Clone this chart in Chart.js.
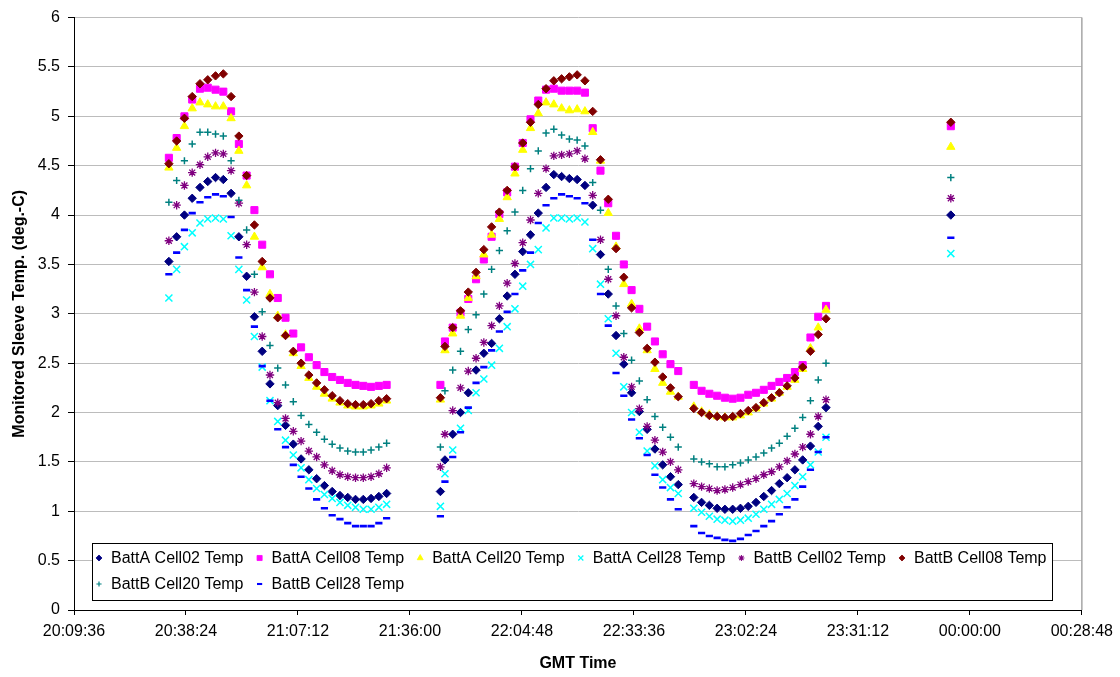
<!DOCTYPE html>
<html>
<head>
<meta charset="utf-8">
<script src="https://cdn.jsdelivr.net/npm/chart.js@4.4.1/dist/chart.umd.min.js"></script>
<style>
  html, body { margin: 0; padding: 0; background: #fff; }
  #wrap { width: 1120px; height: 677px; }
</style>
</head>
<body>
<div id="wrap"><canvas id="tempChart" width="1120" height="677"></canvas></div>
<script>
// sample times (GMT), 2 min apart, with the gaps seen in the plot
const times = [
  "20:34","20:36","20:38","20:40","20:42","20:44","20:46","20:48","20:50","20:52",
  "20:54","20:56","20:58","21:00","21:02","21:04","21:06","21:08","21:10","21:12",
  "21:14","21:16","21:18","21:20","21:22","21:24","21:26","21:28","21:30",
  "21:43:50",
  "21:45","21:47","21:49","21:51","21:53","21:55","21:57","21:59","22:01","22:03",
  "22:05","22:07","22:09","22:11","22:13","22:15","22:17","22:19","22:21","22:23",
  "22:25","22:27","22:29","22:31","22:33","22:35","22:37","22:39","22:41","22:43","22:45",
  "22:49","22:51","22:53","22:55","22:57","22:59","23:01","23:03","23:05","23:07",
  "23:09","23:11","23:13","23:15","23:17","23:19","23:21","23:23",
  "23:55:06"
];

const seriesNames = [
  "BattA Cell02 Temp", "BattA Cell08 Temp", "BattA Cell20 Temp", "BattA Cell28 Temp",
  "BattB Cell02 Temp", "BattB Cell08 Temp", "BattB Cell20 Temp", "BattB Cell28 Temp"
];

const battA02 = [
  3.53, 3.78, 4.0, 4.17, 4.28, 4.34, 4.38, 4.36, 4.22, 3.78, 3.38, 2.97, 2.62, 2.29, 2.07,
  1.87, 1.68, 1.53, 1.42, 1.33, 1.26, 1.2, 1.16, 1.14, 1.12, 1.12, 1.13, 1.15, 1.18,
  1.2,
  1.52, 1.78, 2.0, 2.2, 2.43, 2.6, 2.7, 2.95, 3.18, 3.4, 3.63, 3.8, 4.02, 4.28, 4.41, 4.39,
  4.37, 4.36, 4.3, 4.1, 3.6, 3.2, 2.78, 2.49, 2.2, 2.01, 1.83, 1.63, 1.47, 1.35, 1.27,
  1.14, 1.09, 1.06, 1.03, 1.02, 1.02, 1.03, 1.05, 1.09, 1.15, 1.21, 1.28, 1.34, 1.42, 1.52,
  1.66, 1.86, 2.05,
  4.0
];
const battA08 = [
  4.58, 4.78, 5.0, 5.17, 5.28, 5.29, 5.27, 5.25, 5.05, 4.72, 4.4, 4.05, 3.7, 3.4, 3.16,
  2.96, 2.8, 2.66, 2.56, 2.48, 2.41, 2.36, 2.33, 2.3, 2.28, 2.27, 2.26, 2.27, 2.28,
  2.28,
  2.72, 2.86, 3.01, 3.15, 3.35, 3.55, 3.78, 4.01, 4.23, 4.49, 4.73, 4.97, 5.16, 5.27, 5.28, 5.26,
  5.26, 5.26, 5.24, 4.88, 4.45, 4.12, 3.79, 3.5, 3.24, 3.05, 2.87, 2.72, 2.59, 2.49, 2.42,
  2.28, 2.22, 2.19, 2.17, 2.15, 2.14, 2.15, 2.18, 2.2, 2.23, 2.27, 2.31, 2.35, 2.41, 2.48,
  2.76, 2.97, 3.08,
  4.9
];
const battA20 = [
  4.48, 4.68, 4.9, 5.08, 5.14, 5.12, 5.1, 5.1, 4.98, 4.65, 4.3, 3.78, 3.47, 3.2, 2.98,
  2.79, 2.6, 2.47, 2.35, 2.26, 2.19, 2.14, 2.1, 2.07, 2.06, 2.06, 2.07, 2.09, 2.12,
  2.13,
  2.63, 2.8, 2.98, 3.16, 3.38, 3.6, 3.8, 3.96, 4.18, 4.42, 4.66, 4.88, 5.03, 5.14, 5.12, 5.08,
  5.06, 5.07, 5.05, 4.84, 4.55, 4.02, 3.68, 3.3, 3.1, 2.85, 2.63, 2.44, 2.3, 2.21, 2.16,
  2.06, 2.01, 1.98, 1.96, 1.95, 1.95, 1.97, 2.0, 2.04, 2.09, 2.14, 2.2, 2.26, 2.33, 2.44,
  2.65, 2.86, 3.04,
  4.69
];
const battA28 = [
  3.16, 3.45, 3.68, 3.82, 3.92, 3.96, 3.97, 3.96, 3.79, 3.45, 3.14, 2.77, 2.46, 2.12, 1.91,
  1.72, 1.57, 1.44, 1.32, 1.23, 1.17, 1.13, 1.09, 1.06, 1.04, 1.02, 1.02, 1.04, 1.07,
  1.05,
  1.38, 1.62, 1.84, 2.02, 2.2, 2.34, 2.48, 2.65, 2.87, 3.05, 3.28, 3.5, 3.65, 3.87, 3.97, 3.97,
  3.96, 3.97, 3.93, 3.66, 3.3, 2.95, 2.6, 2.26, 2.0, 1.8, 1.61, 1.46, 1.32, 1.24, 1.18,
  1.03, 0.99, 0.95, 0.92, 0.91, 0.9, 0.91, 0.93, 0.97, 1.02, 1.07, 1.12, 1.18, 1.26, 1.35,
  1.47, 1.6, 1.75,
  3.61
];
const battB02 = [
  3.74, 4.1, 4.3, 4.43, 4.51, 4.59, 4.63, 4.62, 4.45, 4.12, 3.7, 3.22, 2.77, 2.38, 2.1,
  1.94, 1.81, 1.71, 1.61, 1.55, 1.47, 1.41, 1.37, 1.35, 1.34, 1.34, 1.35, 1.38, 1.44,
  1.45,
  1.78, 2.02, 2.25, 2.42, 2.55, 2.71, 2.88, 3.08, 3.31, 3.51, 3.72, 3.95, 4.22, 4.47, 4.6, 4.61,
  4.62, 4.65, 4.57, 4.2, 3.75, 3.35, 2.98, 2.56, 2.26, 2.04, 1.86, 1.72, 1.6, 1.5, 1.42,
  1.28, 1.25, 1.23, 1.21, 1.22, 1.24, 1.27, 1.3, 1.33, 1.37, 1.4, 1.45, 1.51, 1.58, 1.65,
  1.78, 1.96, 2.13,
  4.17
];
const battB08 = [
  4.52, 4.75, 4.98, 5.2, 5.33, 5.37, 5.41, 5.43, 5.2, 4.8, 4.4, 3.9, 3.53, 3.16, 2.96,
  2.78, 2.62, 2.5, 2.38, 2.3, 2.23, 2.17, 2.12, 2.09, 2.08, 2.08, 2.09, 2.12, 2.14,
  2.15,
  2.67, 2.86, 3.03, 3.22, 3.42, 3.65, 3.88, 4.03, 4.25, 4.49, 4.73, 4.94, 5.12, 5.28, 5.36, 5.38,
  5.4, 5.42, 5.36, 5.05, 4.56, 4.16, 3.66, 3.37, 3.06, 2.81, 2.65, 2.51, 2.36, 2.25, 2.16,
  2.04, 2.0, 1.97, 1.96, 1.95, 1.96, 1.99, 2.02, 2.05, 2.1, 2.15, 2.2, 2.27, 2.35, 2.46,
  2.62, 2.79, 2.95,
  4.94
];
const battB20 = [
  4.13, 4.35, 4.55, 4.72, 4.84, 4.84, 4.82, 4.8, 4.55, 4.15, 3.85, 3.4, 3.02, 2.68, 2.45,
  2.28, 2.11, 1.97, 1.88, 1.8, 1.73, 1.68, 1.64, 1.61, 1.6, 1.6, 1.62, 1.65, 1.69,
  1.65,
  2.22, 2.43, 2.62, 2.84, 2.99, 3.2, 3.45, 3.64, 3.84, 4.03, 4.25, 4.47, 4.65, 4.83, 4.87, 4.81,
  4.77, 4.76, 4.7, 4.33, 4.05, 3.45, 3.08, 2.8, 2.53, 2.32, 2.13, 1.96, 1.85, 1.75, 1.65,
  1.53, 1.5, 1.48, 1.45, 1.45, 1.47, 1.49, 1.52, 1.55, 1.59, 1.64, 1.69, 1.76, 1.84, 1.95,
  2.12, 2.33, 2.5,
  4.38
];
const battB28 = [
  3.4, 3.62, 3.85, 4.02, 4.13, 4.18, 4.21, 4.19, 3.98, 3.57, 3.24, 2.87, 2.47, 2.12, 1.83,
  1.65, 1.47, 1.35, 1.23, 1.12, 1.03, 0.96, 0.92, 0.88, 0.85, 0.85, 0.85, 0.88, 0.93,
  0.95,
  1.3, 1.55, 1.8, 2.05, 2.3, 2.46, 2.63, 2.82, 3.02, 3.2, 3.44, 3.62, 3.92, 4.1, 4.17, 4.21,
  4.19, 4.17, 4.12, 3.75, 3.2, 2.88, 2.4, 2.17, 1.93, 1.74, 1.57, 1.37, 1.24, 1.12, 1.02,
  0.85, 0.78, 0.75, 0.73, 0.71, 0.7, 0.72, 0.76, 0.8, 0.85, 0.9, 0.97, 1.04, 1.12, 1.25,
  1.42, 1.6, 1.75,
  3.77
];

const seriesValues = [battA02, battA08, battA20, battA28, battB02, battB08, battB20, battB28];

// x axis runs 20:09:36 .. 00:28:48 (next day) in steps of 28:48
const xMin = 20 * 3600 + 9 * 60 + 36;
const xStep = 28 * 60 + 48;
const xMax = xMin + 9 * xStep;

// marker look for each series (Excel default marker set)
const markers = [
  { color: "#000080", style: "rectRot",  radius: 4.2, border: 1 },
  { color: "#FF00FF", style: "rect",     radius: 5,   border: 1 },
  { color: "#FFFF00", style: "triangle", radius: 4.8, border: 1 },
  { color: "#00FFFF", style: "crossRot", radius: 5,   border: 1.5 },
  { color: "#800080", style: "star",     radius: 4.2, border: 1.3 },
  { color: "#800000", style: "rectRot",  radius: 4.2, border: 1 },
  { color: "#008080", style: "cross",    radius: 3.6, border: 1.5 },
  { color: "#0000FF", style: "line",     radius: 3.6, border: 2.6 },
];

function toSec(s) {
  const p = s.split(":").map(Number);
  return p[0] * 3600 + p[1] * 60 + (p[2] || 0);
}

function fmtTime(v) {
  const s = Math.round(v) % 86400;
  const h = Math.floor(s / 3600);
  const m = Math.floor((s % 3600) / 60);
  const sec = s % 60;
  return [h, m, sec].map((n) => String(n).padStart(2, "0")).join(":");
}

const xs = times.map(toSec);

Chart.defaults.font.family = "'Liberation Sans', Arial, sans-serif";
Chart.defaults.font.size = 16;
Chart.defaults.color = "#000";

const datasets = seriesNames.map((name, i) => ({
  label: name,
  data: seriesValues[i].map((v, j) => ({ x: xs[j], y: v })),
  showLine: false,
  pointStyle: markers[i].style,
  pointRadius: markers[i].radius,
  pointBorderWidth: markers[i].border,
  pointBackgroundColor: markers[i].color,
  pointBorderColor: markers[i].color,
  // later series sit on top, like the original
  order: seriesNames.length - i,
}));

// right edge of the plot area
const plotFrame = {
  id: "plotFrame",
  beforeDatasetsDraw(chart) {
    const { ctx, chartArea } = chart;
    ctx.save();
    ctx.strokeStyle = "#a6a6a6";
    ctx.lineWidth = 1.5;
    ctx.beginPath();
    ctx.moveTo(chartArea.right, chartArea.top);
    ctx.lineTo(chartArea.right, chartArea.bottom);
    ctx.stroke();
    ctx.restore();
  },
};

// boxed legend inside the bottom of the plot
const boxLegend = {
  id: "boxLegend",
  afterDraw(chart) {
    const ctx = chart.ctx;
    const box = { x: 92.5, y: 543.5, w: 960, h: 57 };
    ctx.save();
    ctx.fillStyle = "#fff";
    ctx.fillRect(box.x, box.y, box.w, box.h);
    ctx.strokeStyle = "#000";
    ctx.lineWidth = 1;
    ctx.strokeRect(box.x, box.y, box.w, box.h);
    ctx.font = "16px 'Liberation Sans', Arial, sans-serif";
    ctx.textBaseline = "middle";
    ctx.textAlign = "left";
    seriesNames.forEach((name, i) => {
      const col = i % 6;
      const row = Math.floor(i / 6);
      const mx = 99 + col * 160.6;
      const my = 558 + row * 26;
      const mk = markers[i];
      ctx.fillStyle = mk.color;
      ctx.strokeStyle = mk.color;
      ctx.lineWidth = mk.border * 0.8;
      Chart.helpers.drawPoint(ctx, {
        pointStyle: mk.style, radius: mk.radius * 0.72, borderWidth: mk.border * 0.8, rotation: 0,
      }, mx, my);
      ctx.fillStyle = "#000";
      ctx.fillText(name, mx + 12, my + 1);
    });
    ctx.restore();
  },
};

new Chart(document.getElementById("tempChart"), {
  type: "scatter",
  data: { datasets },
  options: {
    responsive: false,
    devicePixelRatio: 1,
    animation: false,
    layout: { padding: { left: 0, right: 37, top: 11, bottom: 0 } },
    plugins: {
      legend: { display: false },
      tooltip: { enabled: false },
    },
    scales: {
      x: {
        type: "linear",
        min: xMin,
        max: xMax,
        afterFit: (scale) => { scale.height = 67; },
        ticks: {
          stepSize: xStep,
          autoSkip: false,
          maxRotation: 0,
          padding: 7,
          callback: (v) => fmtTime(v),
        },
        grid: { drawOnChartArea: false, tickLength: 5, tickColor: "#000" },
        border: { color: "#000", width: 1 },
        title: {
          display: true,
          text: "GMT Time",
          font: { weight: "bold" },
          padding: { top: 0, bottom: 4 },
        },
      },
      y: {
        min: 0,
        max: 6,
        afterFit: (scale) => { scale.width = 74; },
        ticks: { stepSize: 0.5, padding: 8, callback: (v) => String(v) },
        grid: {
          color: (c) => (c.tick && c.tick.value === 0 ? "#000" : "#bcbcbc"),
          tickLength: 6,
          tickColor: "#000",
        },
        border: { color: "#000", width: 1 },
        title: {
          display: true,
          text: "Monitored Sleeve Temp. (deg.-C)",
          font: { weight: "bold" },
          padding: { top: 10, bottom: 0 },
        },
      },
    },
  },
  plugins: [plotFrame, boxLegend],
});
</script>
</body>
</html>
